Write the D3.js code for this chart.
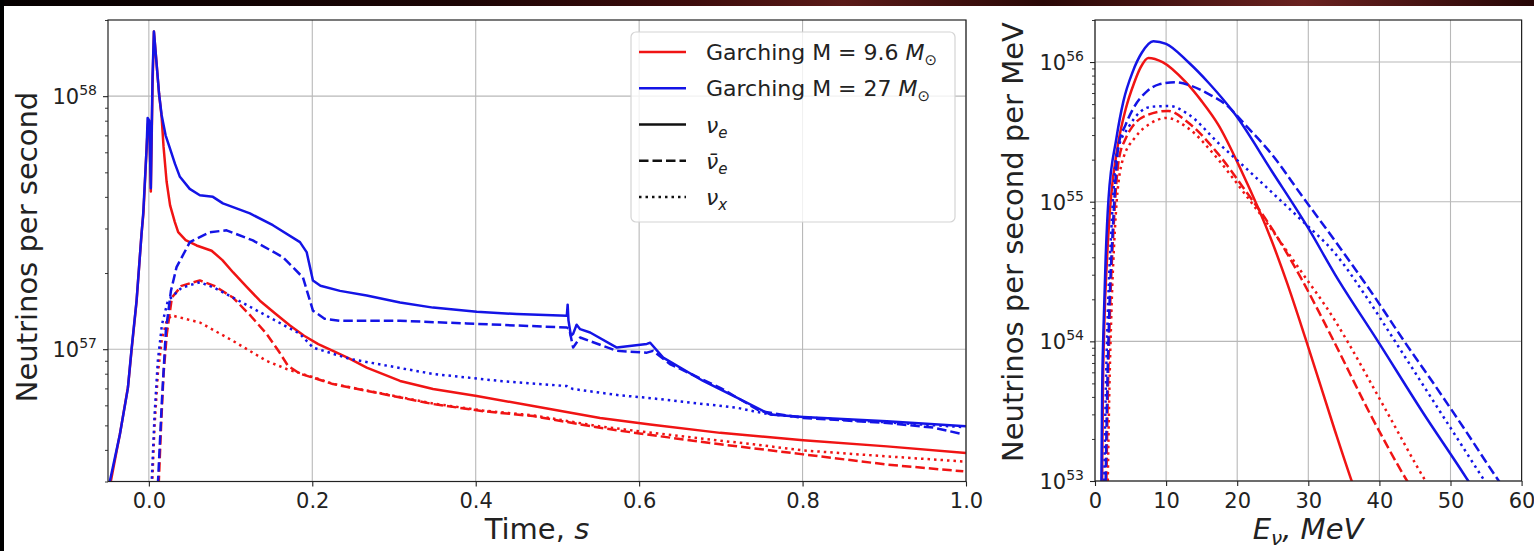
<!DOCTYPE html>
<html>
<head>
<meta charset="utf-8">
<script src="https://cdn.jsdelivr.net/npm/d3@7"></script>
<style>
  html, body { margin: 0; padding: 0; background: #fff; }
  svg { display: block; font-family: "DejaVu Sans", sans-serif; }
</style>
</head>
<body>
<svg id="chart" width="1534" height="551"></svg>
<script>
// ---- data ----
const timeTicks = [0, 0.2, 0.4, 0.6, 0.8, 1.0];
const rateTicks = [1e57, 1e58];
const energyTicks = [0, 10, 20, 30, 40, 50, 60];
const specTicks = [1e53, 1e54, 1e55, 1e56];

// left panel: [time s, neutrinos per second]
const nue96 = [[-0.0466,0.30e57],[-0.035,0.47e57],[-0.0255,0.71e57],[-0.021,1.0e57],[-0.015,1.55e57],[-0.009,2.85e57],[-0.0065,3.5e57],[-0.0028,6.2e57],[-0.001,7.8e57],[0.001,7.0e57],[0.0024,4.2e57],[0.0045,11e57],[0.0062,18.0e57],[0.009,14e57],[0.0125,10.2e57],[0.0156,8.3e57],[0.018,6.3e57],[0.0217,4.6e57],[0.026,3.7e57],[0.0318,3.18e57],[0.0359,2.90e57],[0.045,2.70e57],[0.0584,2.57e57],[0.0768,2.45e57],[0.09,2.25e57],[0.1032,2.01e57],[0.12,1.76e57],[0.1359,1.555e57],[0.155,1.38e57],[0.1727,1.24e57],[0.19,1.13e57],[0.2073,1.047e57],[0.2253,0.985e57],[0.245,0.92e57],[0.2666,0.845e57],[0.3074,0.749e57],[0.3478,0.696e57],[0.4013,0.653e57],[0.4702,0.596e57],[0.5522,0.535e57],[0.6135,0.504e57],[0.6992,0.467e57],[0.8008,0.437e57],[0.9033,0.413e57],[1.0,0.389e57]];
const nuebar96 = [[0.012,0.29e57],[0.015,0.5e57],[0.018,0.8e57],[0.022,1.15e57],[0.0282,1.6e57],[0.04,1.78e57],[0.0624,1.87e57],[0.08,1.78e57],[0.1029,1.60e57],[0.125,1.35e57],[0.1441,1.15e57],[0.16,0.97e57],[0.1702,0.86e57],[0.185,0.80e57],[0.2008,0.772e57],[0.2253,0.728e57],[0.2865,0.665e57],[0.3478,0.607e57],[0.409,0.569e57],[0.4702,0.544e57],[0.5522,0.489e57],[0.6094,0.460e57],[0.6992,0.421e57],[0.8008,0.384e57],[0.9033,0.350e57],[0.9967,0.329e57]];
const nux96 = [[0.004,0.29e57],[0.007,0.5e57],[0.011,0.8e57],[0.016,1.1e57],[0.022,1.3e57],[0.0278,1.36e57],[0.0624,1.275e57],[0.1029,1.079e57],[0.1441,0.899e57],[0.1686,0.835e57],[0.2008,0.775e57],[0.2253,0.73e57],[0.2865,0.667e57],[0.3478,0.61e57],[0.409,0.572e57],[0.4702,0.548e57],[0.5522,0.495e57],[0.6094,0.47e57],[0.6992,0.435e57],[0.7396,0.421e57],[0.8008,0.398e57],[0.9033,0.377e57],[0.9967,0.36e57]];
const nue27 = [[-0.0478,0.30e57],[-0.0355,0.46e57],[-0.0257,0.70e57],[-0.0212,1.0e57],[-0.0151,1.55e57],[-0.0089,2.87e57],[-0.007,3.4e57],[-0.0028,6.2e57],[-0.0015,8.2e57],[0.0005,8.0e57],[0.0024,4.33e57],[0.0045,12e57],[0.0062,18.0e57],[0.009,14e57],[0.0125,10.2e57],[0.0156,8.43e57],[0.0205,7.0e57],[0.0257,6.23e57],[0.032,5.4e57],[0.038,4.8e57],[0.05,4.3e57],[0.0624,4.06e57],[0.0784,4.0e57],[0.0906,3.77e57],[0.1237,3.44e57],[0.1518,3.09e57],[0.1849,2.65e57],[0.1931,2.42e57],[0.2008,1.87e57],[0.21,1.78e57],[0.2339,1.70e57],[0.2666,1.63e57],[0.3074,1.53e57],[0.3478,1.46e57],[0.4013,1.406e57],[0.4502,1.377e57],[0.5115,1.355e57],[0.5125,1.50e57],[0.5135,1.30e57],[0.5165,1.13e57],[0.5192,1.15e57],[0.5235,1.25e57],[0.5278,1.2e57],[0.54,1.164e57],[0.5727,1.015e57],[0.6094,1.049e57],[0.6135,1.06e57],[0.6294,0.926e57],[0.6784,0.749e57],[0.7196,0.643e57],[0.7604,0.552e57],[0.8008,0.540e57],[0.9033,0.519e57],[1.0,0.496e57]];
const nuebar27 = [[0.011,0.29e57],[0.0159,0.62e57],[0.0208,1.18e57],[0.027,1.7e57],[0.0339,2.11e57],[0.0502,2.65e57],[0.0747,2.90e57],[0.0951,2.95e57],[0.1273,2.69e57],[0.1641,2.31e57],[0.1886,1.92e57],[0.2008,1.42e57],[0.215,1.32e57],[0.2339,1.295e57],[0.3074,1.295e57],[0.389,1.264e57],[0.5115,1.218e57],[0.5145,1.20e57],[0.5192,1.015e57],[0.5278,1.112e57],[0.5727,0.985e57],[0.6094,0.969e57],[0.6171,0.985e57],[0.6376,0.874e57],[0.6992,0.704e57],[0.7482,0.569e57],[0.8008,0.535e57],[0.9033,0.511e57],[0.96,0.49e57],[0.9967,0.461e57]];
const nux27 = [[0.0033,0.29e57],[0.007,0.55e57],[0.011,0.9e57],[0.016,1.25e57],[0.0233,1.555e57],[0.04,1.75e57],[0.0624,1.84e57],[0.08,1.75e57],[0.1029,1.60e57],[0.1441,1.355e57],[0.1849,1.15e57],[0.2008,1.015e57],[0.2461,0.915e57],[0.3478,0.798e57],[0.4298,0.749e57],[0.5115,0.715e57],[0.5192,0.696e57],[0.5767,0.657e57],[0.6094,0.643e57],[0.7196,0.587e57],[0.7396,0.569e57],[0.7604,0.552e57],[0.8008,0.538e57],[0.9033,0.514e57],[0.9967,0.492e57]];

// right panel: [energy MeV, neutrinos per second per MeV]
const specNue96 = [[1.0,1.0e53],[1.1,3.98e53],[1.3,1.26e54],[1.7,3.98e54],[2.2,1.0e55],[3.2,2.51e55],[4.3,4.57e55],[5.5,7.08e55],[6.4,9.12e55],[7.5,1.07e56],[9.5,1.0e56],[12.7,7.24e55],[15,5.25e55],[17.35,3.55e55],[20.6,1.66e55],[24.85,5.25e54],[27,2.63e54],[29.6,1.05e54],[33.75,2.29e53],[36.1,1.0e53],[37,7.4e52]];
const specNuebar96 = [[1.6,1.0e53],[1.8,3.98e53],[2.1,1.58e54],[2.6,6.31e54],[3.35,2.0e55],[4.3,2.82e55],[5.3,3.47e55],[7.3,4.17e55],[10.3,4.47e55],[13,3.72e55],[17.35,2.19e55],[21,1.23e55],[24.85,6.46e54],[29,2.82e54],[33.6,1.0e54],[38.5,3.16e53],[43.9,1.0e53],[44.5,8.9e52]];
const specNux96 = [[1.8,1.0e53],[2.0,3.98e53],[2.3,1.58e54],[2.8,6.31e54],[3.8,1.91e55],[5.8,2.95e55],[7.8,3.63e55],[10.1,3.98e55],[13,3.39e55],[17.35,2.0e55],[21,1.15e55],[24.85,6.31e54],[29,3.16e54],[33.75,1.41e54],[35.5,1.0e54],[41,3.16e53],[46.5,1.0e53],[47,9.1e52]];
const specNue27 = [[0.9,1.0e53],[1.0,3.98e53],[1.2,1.26e54],[1.5,3.98e54],[1.9,1.05e55],[3.0,2.82e55],[4.0,5.25e55],[5.3,8.51e55],[6.6,1.17e56],[8.2,1.41e56],[10,1.35e56],[13.1,1.0e56],[16,7.08e55],[19.7,4.22e55],[24.85,1.66e55],[30,6.46e54],[33.75,3.02e54],[39.8,1.0e54],[46,3.16e53],[52.5,1.0e53],[53.5,8.3e52]];
const specNuebar27 = [[1.5,1.0e53],[1.7,3.98e53],[2.0,1.58e54],[2.5,6.31e54],[3.3,2.51e55],[4.3,3.55e55],[5.3,4.57e55],[7.3,6.17e55],[9,6.92e55],[11.25,7.16e55],[13.5,6.76e55],[16,5.89e55],[18.3,5.01e55],[21.5,3.39e55],[24.85,2.19e55],[29,1.12e55],[33.75,5.25e54],[39.3,2.09e54],[43.5,1.0e54],[48,4.68e53],[52,2.34e53],[56.8,1.0e53],[57.5,8.9e52]];
const specNux27 = [[1.3,1.0e53],[1.5,3.98e53],[1.8,1.58e54],[2.3,6.31e54],[3.1,2.24e55],[4.8,3.47e55],[6.3,4.37e55],[8,4.79e55],[10.5,4.84e55],[13,4.27e55],[17.35,2.63e55],[21,1.78e55],[24.85,1.17e55],[29,7.41e54],[33.75,4.27e54],[38,2.14e54],[42.2,1.0e54],[48.5,3.16e53],[54.8,1.0e53],[55.5,8.8e52]];

const RED = "#f01414", BLUE = "#1414e6";
const DASH = "9.5,4", DOT = "2.5,4";

// ---- layout ----
const svg = d3.select("#chart");
svg.append("rect").attr("width", 1534).attr("height", 551).attr("fill", "#fff");

// dark slide border at the top and left
const defs = svg.append("defs");
const grad = defs.append("linearGradient").attr("id", "band");
[["0", "#050000"], ["0.3", "#1c0505"], ["0.45", "#3d0c0c"], ["0.55", "#5a1a18"], ["0.68", "#2a0807"], ["0.85", "#6a2220"], ["1", "#260606"]]
  .forEach(s => grad.append("stop").attr("offset", s[0]).attr("stop-color", s[1]));
svg.append("rect").attr("width", 1534).attr("height", 6).attr("fill", "url(#band)");
svg.append("rect").attr("width", 4).attr("height", 551).attr("fill", "#000");

function panel(cfg) {
  const { x, y, xTicks, yTicks, xFormat, id } = cfg;
  const [x0, x1] = x.range();
  const [y1, y0] = y.range();
  const g = svg.append("g");

  defs.append("clipPath").attr("id", id)
    .append("rect").attr("x", x0).attr("y", y0).attr("width", x1 - x0).attr("height", y1 - y0);

  // grid
  g.selectAll(".gx").data(xTicks).enter().append("line")
    .attr("x1", d => x(d)).attr("x2", d => x(d)).attr("y1", y0).attr("y2", y1)
    .attr("stroke", "#b8b8b8").attr("stroke-width", 1.1);
  g.selectAll(".gy").data(yTicks).enter().append("line")
    .attr("x1", x0).attr("x2", x1).attr("y1", d => y(d)).attr("y2", d => y(d))
    .attr("stroke", "#b8b8b8").attr("stroke-width", 1.1);

  // x axis
  const xa = g.append("g").attr("transform", `translate(0,${y1})`)
    .call(d3.axisBottom(x).tickValues(xTicks).tickSize(5).tickPadding(7).tickFormat(xFormat));
  xa.select(".domain").remove();
  xa.selectAll("text").attr("font-size", 21).attr("fill", "#222").attr("font-family", "DejaVu Sans");
  xa.selectAll("line").attr("stroke", "#222").attr("stroke-width", 1.1);

  // y axis: minor then major ticks
  const minors = y.ticks().filter(v => Math.abs(Math.log10(v) - Math.round(Math.log10(v))) > 1e-6);
  const ym = g.append("g").attr("transform", `translate(${x0},0)`)
    .call(d3.axisLeft(y).tickValues(minors).tickSize(3).tickFormat(""));
  ym.select(".domain").remove();
  ym.selectAll("line").attr("stroke", "#222").attr("stroke-width", 0.9);
  const ya = g.append("g").attr("transform", `translate(${x0},0)`)
    .call(d3.axisLeft(y).tickValues(yTicks).tickSize(5).tickFormat(""));
  ya.select(".domain").remove();
  ya.selectAll("line").attr("stroke", "#222").attr("stroke-width", 1.1);

  const lab = g.selectAll(".ylab").data(yTicks).enter().append("text")
    .attr("x", x0 - 11).attr("y", d => y(d) + 8)
    .attr("text-anchor", "end").attr("fill", "#222").attr("font-size", 21);
  lab.append("tspan").text("10");
  lab.append("tspan").attr("font-size", 14).attr("dy", -9)
    .text(d => Math.round(Math.log10(d)));

  return g;
}

function drawLines(g, x, y, series, clipId, curve) {
  const line = d3.line().x(d => x(d[0])).y(d => y(d[1])).curve(curve);
  const lg = g.append("g").attr("clip-path", `url(#${clipId})`);
  series.forEach(s => {
    lg.append("path").datum(s.data)
      .attr("d", line)
      .attr("fill", "none")
      .attr("stroke", s.color)
      .attr("stroke-width", 2.5)
      .attr("stroke-dasharray", s.dash)
      .attr("stroke-linejoin", "round");
  });
}

function spines(g, x, y) {
  const [x0, x1] = x.range();
  const [y1, y0] = y.range();
  g.append("rect").attr("x", x0).attr("y", y0).attr("width", x1 - x0).attr("height", y1 - y0)
    .attr("fill", "none").attr("stroke", "#222").attr("stroke-width", 1.2);
}

// ---- left panel: time profile ----
const xT = d3.scaleLinear().domain([-0.05, 1.0]).range([108, 966]);
const yR = d3.scaleLog().domain([3e56, 2e58]).range([481.5, 20]);
const gl = panel({ x: xT, y: yR, xTicks: timeTicks, yTicks: rateTicks, xFormat: d3.format(".1f"), id: "clipL" });
drawLines(gl, xT, yR, [
  { data: nue96, color: RED, dash: null },
  { data: nuebar96, color: RED, dash: DASH },
  { data: nux96, color: RED, dash: DOT },
  { data: nue27, color: BLUE, dash: null },
  { data: nuebar27, color: BLUE, dash: DASH },
  { data: nux27, color: BLUE, dash: DOT }
], "clipL", d3.curveLinear);
spines(gl, xT, yR);

gl.append("text").attr("transform", "translate(37,247) rotate(-90)")
  .attr("text-anchor", "middle").attr("font-size", 29).attr("fill", "#222")
  .text("Neutrinos per second");
const tl = gl.append("text").attr("x", 537).attr("y", 539)
  .attr("text-anchor", "middle").attr("font-size", 29).attr("fill", "#222");
tl.append("tspan").text("Time, ");
tl.append("tspan").attr("font-style", "italic").text("s");

// legend
const legendRows = [
  { color: RED, dash: null, label: ["Garching M = 9.6 ", "M", "⊙"] },
  { color: BLUE, dash: null, label: ["Garching M = 27 ", "M", "⊙"] },
  { color: "#111", dash: null, label: ["", "ν", "e"] },
  { color: "#111", dash: DASH, label: ["", "ν̄", "e"] },
  { color: "#111", dash: DOT, label: ["", "ν", "x"] }
];
const leg = gl.append("g");
leg.append("rect").attr("x", 631).attr("y", 32).attr("width", 324).attr("height", 190).attr("rx", 5)
  .attr("fill", "#fff").attr("fill-opacity", 0.8).attr("stroke", "#d4d4d4").attr("stroke-width", 1.2);
const rowY = d3.scalePoint().domain(d3.range(legendRows.length)).range([52, 197]);
legendRows.forEach((r, i) => {
  const cy = rowY(i);
  leg.append("line").attr("x1", 639).attr("x2", 686).attr("y1", cy).attr("y2", cy)
    .attr("stroke", r.color).attr("stroke-width", 2.5).attr("stroke-dasharray", r.dash);
  const t = leg.append("text").attr("x", 706).attr("y", cy + 8).attr("font-size", 22).attr("fill", "#222");
  t.append("tspan").text(r.label[0]);
  t.append("tspan").attr("font-style", "italic").text(r.label[1]);
  t.append("tspan").attr("font-size", 15).attr("dy", 5).attr("font-style", r.label[2] === "⊙" ? "normal" : "italic").text(r.label[2]);
});

// ---- right panel: spectra ----
const xE = d3.scaleLinear().domain([0, 60]).range([1095, 1521.6]);
const yS = d3.scaleLog().domain([1e53, 2e56]).range([481, 20]);
const gr = panel({ x: xE, y: yS, xTicks: energyTicks, yTicks: specTicks, xFormat: d3.format("d"), id: "clipR" });
drawLines(gr, xE, yS, [
  { data: specNue96, color: RED, dash: null },
  { data: specNuebar96, color: RED, dash: DASH },
  { data: specNux96, color: RED, dash: DOT },
  { data: specNue27, color: BLUE, dash: null },
  { data: specNuebar27, color: BLUE, dash: DASH },
  { data: specNux27, color: BLUE, dash: DOT }
], "clipR", d3.curveMonotoneX);
spines(gr, xE, yS);

gr.append("text").attr("transform", "translate(1023,242) rotate(-90)")
  .attr("text-anchor", "middle").attr("font-size", 29).attr("fill", "#222")
  .text("Neutrinos per second per MeV");
const te = gr.append("text").attr("x", 1308).attr("y", 539)
  .attr("text-anchor", "middle").attr("font-size", 29).attr("fill", "#222").attr("font-style", "italic");
te.append("tspan").text("E");
te.append("tspan").attr("font-size", 20).attr("dy", 6).text("ν");
te.append("tspan").attr("dy", -6).text(", MeV");
</script>
</body>
</html>
